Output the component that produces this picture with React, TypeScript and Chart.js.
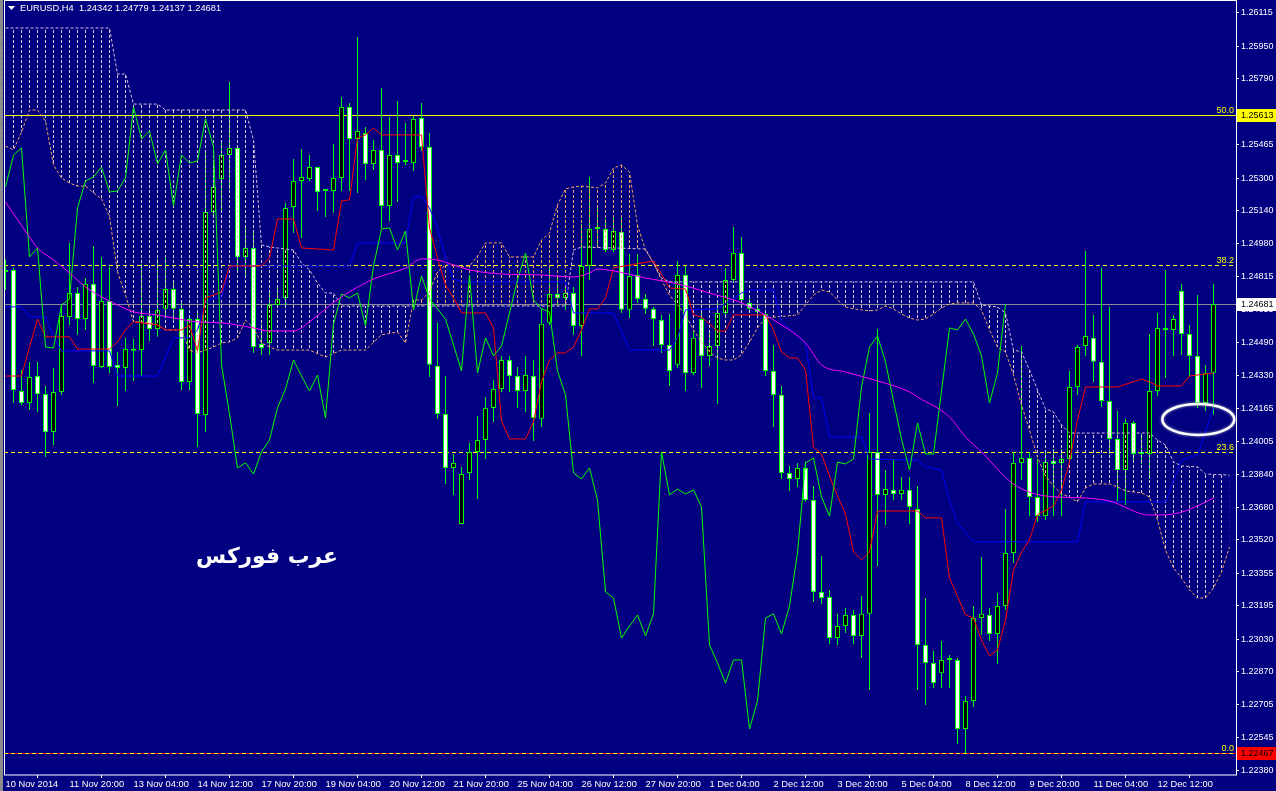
import React, { useEffect, useRef } from 'react';
import { Chart, registerables } from 'chart.js';

Chart.register(...registerables);

const symbolTitle = 'EURUSD,H4';

// OHLC of the H4 bars (bar 0 = 10 Nov 12:00)
const opens = [
  1.24849, 1.24849, 1.24252, 1.24193, 1.24326, 1.24237, 1.24050, 1.24247, 1.24617, 1.24735,
  1.24607, 1.24780, 1.24371, 1.24696, 1.24381, 1.24366, 1.24459, 1.24454, 1.24622, 1.24558,
  1.24657, 1.24755, 1.24657, 1.24297, 1.24607, 1.24134, 1.25134, 1.25297, 1.25415, 1.25450,
  1.24913, 1.24957, 1.24484, 1.24489, 1.24676, 1.24711, 1.25159, 1.25287, 1.25297, 1.25356,
  1.25243, 1.25238, 1.25302, 1.25652, 1.25494, 1.25523, 1.25371, 1.25440, 1.25164, 1.25415,
  1.25381, 1.25376, 1.25598, 1.25455, 1.24376, 1.24139, 1.23873, 1.23597, 1.23848, 1.23952,
  1.24011, 1.24169, 1.24262, 1.24405, 1.24326, 1.24252, 1.24326, 1.24115, 1.24588, 1.24730,
  1.24711, 1.24735, 1.24573, 1.24868, 1.25051, 1.25051, 1.24947, 1.25036, 1.24652, 1.24824,
  1.24706, 1.24657, 1.24602, 1.24479, 1.24381, 1.24824, 1.24341, 1.24607, 1.24425, 1.24474,
  1.24637, 1.24799, 1.24932, 1.24686, 1.24657, 1.24632, 1.24351, 1.24233, 1.23848, 1.23819,
  1.23873, 1.23715, 1.23262, 1.23237, 1.23035, 1.23094, 1.23149, 1.23045, 1.23154, 1.23952,
  1.23740, 1.23765, 1.23745, 1.23765, 1.23671, 1.23001, 1.22912, 1.22862, 1.22927, 1.22927,
  1.22587, 1.22725, 1.23134, 1.23149, 1.23055, 1.23193, 1.23454, 1.23898, 1.23922, 1.23730,
  1.23636, 1.23907, 1.23898, 1.23917, 1.24272, 1.24474, 1.24514, 1.24396, 1.24203, 1.24016,
  1.23863, 1.24095, 1.23942, 1.23942, 1.24252, 1.24563, 1.24553, 1.24745, 1.24533, 1.24425,
  1.24193, 1.24342,
];
const highs = [
  1.24900, 1.24859, 1.24356, 1.24395, 1.24395, 1.24277, 1.24366, 1.24676, 1.24982, 1.24765,
  1.24809, 1.24967, 1.24913, 1.24864, 1.24445, 1.24514, 1.24509, 1.24879, 1.24676, 1.24903,
  1.24913, 1.24785, 1.24691, 1.24612, 1.24637, 1.25435, 1.25391, 1.25474, 1.25775, 1.25455,
  1.25065, 1.25036, 1.24583, 1.24735, 1.24760, 1.25179, 1.25396, 1.25445, 1.25415, 1.25356,
  1.25243, 1.25469, 1.25701, 1.25671, 1.25997, 1.25553, 1.25489, 1.25745, 1.25603, 1.25681,
  1.25573, 1.25607, 1.25671, 1.25524, 1.24588, 1.24326, 1.23942, 1.23878, 1.23996, 1.24129,
  1.24223, 1.24307, 1.24425, 1.24425, 1.24371, 1.24425, 1.24405, 1.24661, 1.24858, 1.24809,
  1.24765, 1.24765, 1.25075, 1.25307, 1.25164, 1.25100, 1.25120, 1.25115, 1.24927, 1.24927,
  1.24730, 1.24666, 1.24627, 1.24632, 1.24893, 1.24868, 1.24548, 1.24637, 1.24553, 1.24686,
  1.24858, 1.25060, 1.25011, 1.24716, 1.24671, 1.24652, 1.24479, 1.24277, 1.23883, 1.23898,
  1.23903, 1.23784, 1.23439, 1.23272, 1.23154, 1.23183, 1.23173, 1.23242, 1.24144, 1.24558,
  1.23863, 1.23917, 1.23829, 1.23829, 1.23784, 1.23232, 1.22971, 1.23020, 1.22951, 1.22937,
  1.22750, 1.23193, 1.23434, 1.23183, 1.23257, 1.23671, 1.23952, 1.24474, 1.23952, 1.23917,
  1.23952, 1.23967, 1.23967, 1.24351, 1.24479, 1.24942, 1.24627, 1.24859, 1.24666, 1.24154,
  1.24115, 1.24105, 1.24040, 1.24533, 1.24637, 1.24849, 1.24627, 1.24780, 1.24578, 1.24725,
  1.24380, 1.24779,
];
const lows = [
  1.24750, 1.24193, 1.24183, 1.24159, 1.24149, 1.23927, 1.23986, 1.24232, 1.24578, 1.24529,
  1.24553, 1.24292, 1.24366, 1.24341, 1.24178, 1.24252, 1.24302, 1.24326, 1.24499, 1.24519,
  1.24612, 1.24602, 1.24257, 1.24257, 1.23976, 1.24050, 1.25120, 1.25130, 1.25248, 1.24839,
  1.24809, 1.24440, 1.24430, 1.24430, 1.24671, 1.24661, 1.25031, 1.25006, 1.25287, 1.25139,
  1.25110, 1.25130, 1.25238, 1.25238, 1.25228, 1.25292, 1.25341, 1.25056, 1.25090, 1.25184,
  1.25366, 1.25336, 1.25435, 1.24321, 1.24115, 1.23794, 1.23740, 1.23597, 1.23814, 1.23720,
  1.23917, 1.24100, 1.24247, 1.24247, 1.24169, 1.24149, 1.24006, 1.24075, 1.24578, 1.24676,
  1.24652, 1.24529, 1.24425, 1.24799, 1.24962, 1.24937, 1.24937, 1.24637, 1.24612, 1.24686,
  1.24632, 1.24474, 1.24440, 1.24277, 1.24366, 1.24252, 1.24331, 1.24267, 1.24376, 1.24188,
  1.24612, 1.24785, 1.24686, 1.24642, 1.24622, 1.24326, 1.24075, 1.23819, 1.23760, 1.23779,
  1.23706, 1.23212, 1.23203, 1.23006, 1.23001, 1.23060, 1.23006, 1.22937, 1.22779, 1.23390,
  1.23592, 1.23715, 1.23715, 1.23597, 1.22779, 1.22705, 1.22789, 1.22789, 1.22789, 1.22513,
  1.22467, 1.22695, 1.23050, 1.23020, 1.22907, 1.23173, 1.23405, 1.23814, 1.23636, 1.23607,
  1.23617, 1.23636, 1.23636, 1.23903, 1.24233, 1.24425, 1.24297, 1.24174, 1.23942, 1.23710,
  1.23691, 1.23898, 1.23893, 1.23819, 1.24228, 1.24316, 1.24425, 1.24430, 1.24321, 1.24169,
  1.24154, 1.24137,
];
const closes = [
  1.24839, 1.24257, 1.24193, 1.24321, 1.24237, 1.24050, 1.24247, 1.24622, 1.24735, 1.24607,
  1.24780, 1.24376, 1.24696, 1.24371, 1.24366, 1.24459, 1.24450, 1.24622, 1.24558, 1.24652,
  1.24755, 1.24657, 1.24297, 1.24607, 1.24139, 1.25134, 1.25258, 1.25415, 1.25450, 1.24913,
  1.24957, 1.24469, 1.24464, 1.24676, 1.24706, 1.25154, 1.25287, 1.25307, 1.25356, 1.25233,
  1.25238, 1.25302, 1.25652, 1.25494, 1.25533, 1.25371, 1.25440, 1.25164, 1.25415, 1.25376,
  1.25386, 1.25593, 1.25455, 1.24381, 1.24139, 1.23873, 1.23898, 1.23843, 1.23952, 1.24011,
  1.24169, 1.24262, 1.24405, 1.24326, 1.24252, 1.24331, 1.24119, 1.24583, 1.24730, 1.24711,
  1.24735, 1.24573, 1.24868, 1.25051, 1.25056, 1.24947, 1.25041, 1.24652, 1.24819, 1.24706,
  1.24657, 1.24607, 1.24479, 1.24351, 1.24824, 1.24341, 1.24514, 1.24425, 1.24474, 1.24637,
  1.24799, 1.24932, 1.24701, 1.24657, 1.24642, 1.24351, 1.24233, 1.23848, 1.23819, 1.23873,
  1.23715, 1.23262, 1.23232, 1.23035, 1.23094, 1.23149, 1.23045, 1.23154, 1.23952, 1.23740,
  1.23769, 1.23745, 1.23765, 1.23681, 1.23001, 1.22912, 1.22813, 1.22927, 1.22927, 1.22587,
  1.22725, 1.23134, 1.23154, 1.23055, 1.23193, 1.23454, 1.23898, 1.23922, 1.23730, 1.23636,
  1.23902, 1.23893, 1.23917, 1.24272, 1.24469, 1.24523, 1.24396, 1.24203, 1.24016, 1.23863,
  1.24095, 1.23942, 1.23942, 1.24252, 1.24563, 1.24553, 1.24607, 1.24533, 1.24425, 1.24193,
  1.24342, 1.24681,
];

const chikouShift = 26;

// time axis
const xTickBars = [0, 8, 16, 24, 32, 40, 48, 56, 64, 72, 80, 88, 96, 104, 112, 120, 128, 136, 144];
const xTickLabels = [
  '10 Nov 2014', '11 Nov 20:00', '13 Nov 04:00', '14 Nov 12:00', '17 Nov 20:00', '19 Nov 04:00',
  '20 Nov 12:00', '21 Nov 20:00', '25 Nov 04:00', '26 Nov 12:00', '27 Nov 20:00', '1 Dec 04:00',
  '2 Dec 12:00', '3 Dec 20:00', '5 Dec 04:00', '8 Dec 12:00', '9 Dec 20:00', '11 Dec 04:00', '12 Dec 12:00',
];
const yTickValues = [
  1.26115, 1.25950, 1.25790, 1.25625, 1.25465, 1.25300, 1.25140, 1.24980, 1.24815, 1.24655, 1.24490,
  1.24330, 1.24165, 1.24005, 1.23840, 1.23680, 1.23520, 1.23355, 1.23195, 1.23030, 1.22870, 1.22705,
  1.22545, 1.22380,
];

// Ichimoku lines, [bar, price]
const tenkan = [
  [0, 1.24326], [2, 1.24326], [3, 1.24469], [4, 1.24607], [5, 1.24519], [8, 1.24519], [9, 1.24459], [13, 1.24459],
  [14, 1.24494], [15, 1.24553], [16, 1.24593], [19, 1.24578], [20, 1.24553], [22, 1.24553], [23, 1.24578],
  [24, 1.24450], [25, 1.24711], [26, 1.24725], [27, 1.24740], [28, 1.24868], [32, 1.24868], [33, 1.24908],
  [34, 1.25100], [36, 1.25100], [37, 1.24957], [41, 1.24947], [42, 1.25189], [43, 1.25194], [44, 1.25499],
  [45, 1.25514], [46, 1.25548], [47, 1.25514], [52, 1.25514], [53, 1.25056], [54, 1.24908], [55, 1.24775],
  [56, 1.24711], [57, 1.24637], [60, 1.24637], [61, 1.24563], [62, 1.24105], [63, 1.24016], [65, 1.24016],
  [66, 1.24100], [67, 1.24297], [68, 1.24405], [69, 1.24440], [70, 1.24440], [71, 1.24469], [72, 1.24553],
  [73, 1.24657], [74, 1.24657], [75, 1.24711], [76, 1.24859], [81, 1.24893], [83, 1.24760], [85, 1.24755],
  [86, 1.24627], [87, 1.24617], [89, 1.24548], [90, 1.24548], [91, 1.24627], [95, 1.24627], [96, 1.24553],
  [97, 1.24445], [98, 1.24415], [99, 1.24415], [100, 1.24356], [101, 1.23976], [102, 1.23942], [103, 1.23833],
  [104, 1.23735], [105, 1.23646], [106, 1.23459], [107, 1.23420], [108, 1.23459], [109, 1.23661], [114, 1.23661],
  [115, 1.23627], [117, 1.23627], [118, 1.23331], [120, 1.23149], [121, 1.23134], [122, 1.23025], [123, 1.22947],
  [124, 1.22976], [125, 1.23124], [126, 1.23370], [127, 1.23459], [128, 1.23518], [129, 1.23642], [131, 1.23686],
  [132, 1.23765], [133, 1.23903], [134, 1.24110], [135, 1.24272], [139, 1.24272], [142, 1.24311], [143, 1.24297],
  [144, 1.24277], [147, 1.24277], [148, 1.24326], [151, 1.24341],
];
const kijun = [
  [0, 1.24667], [2, 1.24667], [3, 1.24617], [5, 1.24617], [6, 1.24519], [7, 1.24450], [13, 1.24450], [14, 1.24326],
  [19, 1.24326], [20, 1.24420], [21, 1.24514], [23, 1.24514], [24, 1.24553], [25, 1.24686], [26, 1.24711],
  [27, 1.24711], [28, 1.24868], [43, 1.24868], [44, 1.24982], [50, 1.24982], [51, 1.25208], [52, 1.25213],
  [53, 1.25154], [54, 1.25056], [55, 1.24908], [56, 1.24804], [57, 1.24790], [70, 1.24790], [71, 1.24637],
  [76, 1.24637], [78, 1.24454], [83, 1.24454], [84, 1.24514], [85, 1.24652], [89, 1.24657], [92, 1.24735],
  [93, 1.24750], [96, 1.24750], [97, 1.24593], [100, 1.24489], [101, 1.24218], [102, 1.24218], [103, 1.24026],
  [107, 1.24026], [108, 1.23917], [114, 1.23912], [115, 1.23878], [117, 1.23863], [118, 1.23715], [119, 1.23602],
  [121, 1.23509], [134, 1.23509], [135, 1.23706], [145, 1.23706], [147, 1.23912], [149, 1.23937], [151, 1.24169],
];
const senkouA = [
  [0, 1.25459], [1, 1.25440], [2, 1.25528], [3, 1.25637], [4, 1.25637], [5, 1.25583], [6, 1.25366], [7, 1.25302],
  [8, 1.25277], [9, 1.25262], [10, 1.25262], [11, 1.25228], [12, 1.25199], [13, 1.25114], [14, 1.24839],
  [15, 1.24725], [16, 1.24593], [17, 1.24593], [18, 1.24588], [19, 1.24578], [20, 1.24553], [22, 1.24553],
  [23, 1.24454], [24, 1.24440], [25, 1.24454], [26, 1.24469], [27, 1.24489], [28, 1.24494], [29, 1.24514],
  [30, 1.24602], [31, 1.24563], [32, 1.24489], [33, 1.24469], [34, 1.24454], [38, 1.24454], [40, 1.24420],
  [42, 1.24454], [45, 1.24454], [47, 1.24529], [49, 1.24543], [50, 1.24489], [51, 1.24701], [52, 1.24701],
  [53, 1.24740], [54, 1.24839], [55, 1.24873], [56, 1.24873], [57, 1.24864], [58, 1.24868], [59, 1.24917],
  [60, 1.24982], [62, 1.24982], [63, 1.24913], [66, 1.24913], [67, 1.24996], [68, 1.25031], [69, 1.25169],
  [70, 1.25248], [71, 1.25258], [72, 1.25262], [74, 1.25253], [75, 1.25277], [76, 1.25351], [77, 1.25366],
  [78, 1.25331], [79, 1.25070], [80, 1.24947], [81, 1.24883], [82, 1.24799], [83, 1.24725], [84, 1.24676],
  [85, 1.24627], [86, 1.24553], [87, 1.24494], [88, 1.24445], [89, 1.24415], [90, 1.24405], [91, 1.24405],
  [92, 1.24430], [93, 1.24494], [94, 1.24563], [95, 1.24612], [99, 1.24627], [100, 1.24676], [101, 1.24725],
  [102, 1.24750], [103, 1.24740], [104, 1.24701], [105, 1.24666], [106, 1.24657], [107, 1.24652], [108, 1.24647],
  [109, 1.24652], [110, 1.24671], [111, 1.24657], [112, 1.24632], [113, 1.24612], [114, 1.24602], [115, 1.24607],
  [116, 1.24632], [117, 1.24661], [118, 1.24681], [119, 1.24686], [121, 1.24686], [122, 1.24652], [123, 1.24553],
  [124, 1.24469], [125, 1.24445], [126, 1.24331], [127, 1.24184], [128, 1.24060], [129, 1.23927], [130, 1.23833],
  [131, 1.23784], [132, 1.23745], [133, 1.23730], [134, 1.23706], [135, 1.23775], [136, 1.23794], [138, 1.23794],
  [139, 1.23779], [140, 1.23760], [141, 1.23755], [142, 1.23750], [143, 1.23730], [144, 1.23617], [145, 1.23469],
  [146, 1.23380], [147, 1.23331], [148, 1.23272], [149, 1.23232], [150, 1.23232], [151, 1.23282], [152, 1.23360],
  [153, 1.23484],
];
const senkouB = [
  [0, 1.26041], [13, 1.26041], [14, 1.25814], [15, 1.25814], [16, 1.25666], [19, 1.25666], [20, 1.25637],
  [30, 1.25637], [31, 1.25489], [32, 1.24972], [33, 1.24962], [34, 1.24957], [35, 1.24952], [36, 1.24947],
  [37, 1.24883], [38, 1.24849], [39, 1.24785], [40, 1.24735], [41, 1.24735], [42, 1.24671], [70, 1.24671],
  [71, 1.24947], [72, 1.24962], [80, 1.24952], [81, 1.24883], [82, 1.24809], [83, 1.24790], [121, 1.24790],
  [122, 1.24676], [124, 1.24666], [125, 1.24637], [126, 1.24454], [127, 1.24445], [128, 1.24356], [129, 1.24257],
  [130, 1.24164], [131, 1.24149], [132, 1.24085], [133, 1.24045], [143, 1.24045], [144, 1.24011], [145, 1.23986],
  [146, 1.23903], [147, 1.23883], [149, 1.23878], [150, 1.23843], [153, 1.23838],
];
const movingAverage = [
  [0, 1.25184], [3, 1.25011], [4, 1.24957], [6, 1.24898], [8, 1.24834], [10, 1.24765], [12, 1.24716],
  [14, 1.24676], [16, 1.24642], [19, 1.24627], [21, 1.24612], [24, 1.24593], [27, 1.24588], [31, 1.24563],
  [33, 1.24548], [36, 1.24548], [37, 1.24563], [38, 1.24593], [42, 1.24716], [46, 1.24804], [50, 1.24858],
  [52, 1.24903], [54, 1.24898], [56, 1.24873], [58, 1.24849], [62, 1.24829], [67, 1.24824], [71, 1.24814],
  [73, 1.24834], [74, 1.24853], [76, 1.24844], [80, 1.24809], [84, 1.24780], [88, 1.24735], [92, 1.24686],
  [97, 1.24578], [100, 1.24489], [102, 1.24381], [105, 1.24346], [109, 1.24302], [113, 1.24248], [114, 1.24223],
  [118, 1.24124], [120, 1.24026], [122, 1.23952], [126, 1.23794], [130, 1.23735], [135, 1.23725], [138, 1.23710],
  [143, 1.23641], [146, 1.23646], [149, 1.23686], [151, 1.23725],
];

// Fibonacci retracement and horizontal lines
const fibLevelNames = ['0.0', '23.6', '38.2', '50.0'];
const fibLevelPrices = [1.22467, 1.23952, 1.24871, 1.25613];
const hLinePrices = [1.25613, 1.22467];
const hLineColors = ['#ffff00', '#ff0000'];
const hLineTextColors = ['#000000', '#000000'];
const bidPrice = 1.24681;
const watermarkText = 'عرب فوركس';
const ellipseBar = 149.1;
const ellipsePrice = 1.24112;

const pts = (a: number[][]) => a.map(([x, y]) => ({ x, y }));

export default function App() {
  const ref = useRef<HTMLCanvasElement>(null);

  useEffect(() => {
    const canvas = ref.current as HTMLCanvasElement;
    const mainCtx = canvas.getContext('2d') as CanvasRenderingContext2D;
    const mkPattern = (color: string) => {
      const c = document.createElement('canvas');
      c.width = 8;
      c.height = 5;
      const g = c.getContext('2d') as CanvasRenderingContext2D;
      g.fillStyle = color;
      g.fillRect(5, 0, 1, 3);
      return mainCtx.createPattern(c, 'repeat');
    };
    const upKumo = mkPattern('#F4A460');
    const downKumo = mkPattern('#E0CCE0');
    const idx = closes.map((_, i) => i);
    const font = 'Liberation Sans';

    const overlay = {
      id: 'overlay',
      beforeDraw(chart: any) {
        const { ctx, width, height } = chart;
        ctx.save();
        ctx.fillStyle = '#000080';
        ctx.fillRect(0, 0, width, height);
        ctx.restore();
      },
      beforeDatasetsDraw(chart: any) {
        const { ctx, chartArea: a, scales } = chart;
        const y = scales.y;
        ctx.save();
        ctx.lineWidth = 1;
        hLinePrices.forEach((p, k) => {
          const py = Math.round(y.getPixelForValue(p)) + 0.5;
          ctx.strokeStyle = hLineColors[k];
          ctx.setLineDash([]);
          ctx.beginPath();
          ctx.moveTo(a.left, py);
          ctx.lineTo(a.right, py);
          ctx.stroke();
        });
        fibLevelPrices.forEach((p) => {
          const py = Math.round(y.getPixelForValue(p)) + 0.5;
          ctx.strokeStyle = '#ffff00';
          ctx.setLineDash([4, 3]);
          ctx.beginPath();
          ctx.moveTo(a.left, py);
          ctx.lineTo(a.right, py);
          ctx.stroke();
        });
        const by = Math.round(y.getPixelForValue(bidPrice)) + 0.5;
        ctx.setLineDash([]);
        ctx.strokeStyle = '#8a8a9a';
        ctx.beginPath();
        ctx.moveTo(a.left, by);
        ctx.lineTo(a.right, by);
        ctx.stroke();
        ctx.restore();
      },
      afterDraw(chart: any) {
        const { ctx, chartArea: a, scales } = chart;
        const y = scales.y;
        const x = scales.x;
        ctx.save();
        // left strip and frame
        ctx.fillStyle = '#8c8c8c';
        ctx.fillRect(0, 0, 3, chart.height);
        ctx.strokeStyle = '#ffffff';
        ctx.lineWidth = 1;
        ctx.setLineDash([]);
        ctx.strokeRect(a.left + 0.5, a.top - 0.5, a.right - a.left, a.bottom - a.top + 0.5);

        // fib labels
        ctx.font = `9px "${font}"`;
        ctx.fillStyle = '#ffff00';
        ctx.textAlign = 'right';
        ctx.textBaseline = 'alphabetic';
        fibLevelPrices.forEach((p, k) => {
          const py = Math.round(y.getPixelForValue(p));
          ctx.fillText(fibLevelNames[k], a.right - 2, py - 2);
        });

        // price labels on the axis
        const priceBox = (p: number, bg: string, fg: string) => {
          const py = Math.round(y.getPixelForValue(p));
          ctx.fillStyle = bg;
          ctx.fillRect(a.right + 1, py - 6, chart.width - a.right - 1, 13);
          ctx.fillStyle = fg;
          ctx.textAlign = 'left';
          ctx.textBaseline = 'middle';
          ctx.font = `9px "${font}"`;
          ctx.fillText(p.toFixed(5), a.right + 5, py + 1);
        };
        hLinePrices.forEach((p, k) => priceBox(p, hLineColors[k], hLineTextColors[k]));
        priceBox(bidPrice, '#ffffff', '#000000');

        // header
        ctx.fillStyle = '#ffffff';
        ctx.beginPath();
        ctx.moveTo(8, 6);
        ctx.lineTo(15, 6);
        ctx.lineTo(11.5, 10);
        ctx.closePath();
        ctx.fill();
        ctx.font = `9.3px "${font}"`;
        ctx.textAlign = 'left';
        ctx.textBaseline = 'alphabetic';
        const last = closes.length - 1;
        const header = `${symbolTitle}  ${opens[last].toFixed(5)} ${highs[last].toFixed(5)} ${lows[last].toFixed(5)} ${closes[last].toFixed(5)}`;
        ctx.fillText(header, 20, 11);

        // watermark
        ctx.font = `bold 26px "DejaVu Sans"`;
        const w = ctx.measureText(watermarkText).width;
        const size = 26 * 142 / w;
        ctx.font = `bold ${size.toFixed(1)}px "DejaVu Sans"`;
        ctx.direction = 'rtl';
        ctx.textAlign = 'right';
        ctx.fillText(watermarkText, 338, 563);
        ctx.direction = 'ltr';

        // ellipse
        const ex = x.getPixelForValue(ellipseBar);
        const ey = y.getPixelForValue(ellipsePrice);
        ctx.shadowColor = 'rgba(200,200,200,0.8)';
        ctx.shadowBlur = 3;
        ctx.strokeStyle = '#ffffff';
        ctx.lineWidth = 2.5;
        ctx.beginPath();
        ctx.ellipse(ex, ey, 36, 15.5, 0, 0, Math.PI * 2);
        ctx.stroke();
        ctx.restore();
      },
    };

    const lineBase = { type: 'line', borderWidth: 1, pointRadius: 0, pointHoverRadius: 0, fill: false, tension: 0 };

    const chart = new Chart(canvas, {
      type: 'bar',
      data: {
        datasets: [
          { ...lineBase, label: 'MA', data: pts(movingAverage), borderColor: '#ff00ff', cubicInterpolationMode: 'monotone', order: 1 },
          { ...lineBase, label: 'Chikou', data: closes.slice(chikouShift).map((c, k) => ({ x: k, y: c })), borderColor: '#00ff00', order: 2 },
          { ...lineBase, label: 'Tenkan', data: pts(tenkan), borderColor: '#ff0000', order: 3 },
          { ...lineBase, label: 'Kijun', data: pts(kijun), borderColor: '#0000ff', order: 4 },
          { ...lineBase, label: 'SenkouA', data: pts(senkouA), borderColor: '#F4A460', borderDash: [3, 2], fill: { target: 5, above: upKumo, below: downKumo }, order: 5 },
          { ...lineBase, label: 'SenkouB', data: pts(senkouB), borderColor: '#D8BFD8', borderDash: [3, 2], order: 6 },
          {
            type: 'bar', label: 'Bodies',
            data: idx.map((i) => ({ x: i, y: [opens[i], closes[i]] })),
            backgroundColor: idx.map((i) => (closes[i] >= opens[i] ? '#000000' : '#ffffff')),
            borderColor: '#00ff00', borderWidth: 1, borderSkipped: false, barThickness: 5, minBarLength: 2,
            grouped: false, inflateAmount: 0, order: 7,
          },
          {
            type: 'bar', label: 'Wicks',
            data: idx.map((i) => ({ x: i, y: [lows[i], highs[i]] })),
            backgroundColor: '#00ff00', borderWidth: 0, barThickness: 1, grouped: false, inflateAmount: 0, order: 8,
          },
        ] as any,
      },
      options: {
        responsive: false,
        animation: false,
        devicePixelRatio: 1,
        events: [],
        layout: { padding: { left: 4, top: 1, right: 0, bottom: 0 } },
        plugins: { legend: { display: false }, tooltip: { enabled: false } },
        scales: {
          x: {
            type: 'linear', min: -0.1875, max: 153.8125, offset: false, position: 'bottom',
            afterBuildTicks: (s: any) => { s.ticks = xTickBars.map((v) => ({ value: v })); },
            afterFit: (s: any) => { s.height = 16; s.paddingLeft = 0; s.paddingRight = 0; },
            ticks: {
              autoSkip: false, maxRotation: 0, minRotation: 0, align: 'start', color: '#ffffff', padding: 1,
              font: { family: font, size: 9.3 },
              callback: (v: any) => xTickLabels[xTickBars.indexOf(Number(v))] ?? '',
            },
            grid: { display: true, drawOnChartArea: false, drawTicks: true, tickLength: 3, color: '#ffffff' },
            border: { display: false },
          },
          y: {
            type: 'linear', position: 'right', min: 1.2236, max: 1.26174, beginAtZero: false,
            afterBuildTicks: (s: any) => { s.ticks = yTickValues.map((v) => ({ value: v })); },
            afterFit: (s: any) => { s.width = 40; s.paddingTop = 0; s.paddingBottom = 0; },
            ticks: {
              autoSkip: false, color: '#ffffff', padding: 2, font: { family: font, size: 9 },
              callback: (v: any) => Number(v).toFixed(5),
            },
            grid: { display: true, drawOnChartArea: false, drawTicks: true, tickLength: 3, color: '#ffffff' },
            border: { display: false },
          },
        },
      } as any,
      plugins: [overlay],
    });
    return () => chart.destroy();
  }, []);

  return (
    <div style={{ position: 'fixed', left: 0, top: 0, width: 1276, height: 791, background: '#000080' }}>
      <canvas ref={ref} width={1276} height={791} style={{ display: 'block', width: 1276, height: 791 }} />
    </div>
  );
}
